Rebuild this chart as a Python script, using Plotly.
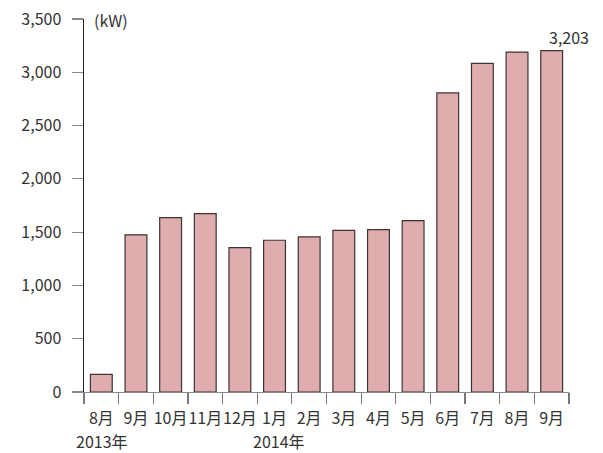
import plotly.graph_objects as go

months = ["8月", "9月", "10月", "11月", "12月", "1月", "2月", "3月", "4月", "5月", "6月", "7月", "8月", "9月"]
values = [166, 1475, 1636, 1674, 1354, 1424, 1455, 1516, 1524, 1608, 2806, 3083, 3190, 3203]
year_labels = ["2013年", "2014年"]
year_positions = [0, 5]
y_ticks = [0, 500, 1000, 1500, 2000, 2500, 3000, 3500]

x_idx = list(range(len(months)))
font_family = "Noto Sans CJK JP, Noto Sans, sans-serif"
text_color = "#333333"
fs = 16

fig = go.Figure(
    go.Bar(
        x=x_idx,
        y=values,
        width=0.63,
        marker=dict(color="#dfadad", line=dict(color="#3d3335", width=1.2)),
        hoverinfo="skip",
    )
)

fig.update_layout(
    width=603,
    height=453,
    margin=dict(l=84, r=34, t=19, b=61, autoexpand=False),
    paper_bgcolor="white",
    plot_bgcolor="white",
    showlegend=False,
    separators=".,",
    font=dict(family=font_family, size=fs, color=text_color),
)

fig.update_xaxes(
    automargin=False,
    range=[-0.5, 13.5],
    tickmode="array",
    tickvals=x_idx,
    ticktext=months,
    tickangle=0,
    showgrid=False,
    zeroline=False,
    showline=True,
    linecolor="#888888",
    linewidth=1.2,
    ticks="",
    ticklabelstandoff=12,
    tickfont=dict(size=fs, color=text_color),
    minor=dict(
        tickmode="array",
        tickvals=[i - 0.5 for i in range(len(months) + 1)],
        ticks="outside",
        ticklen=11,
        tickcolor="#777777",
        tickwidth=1.2,
        showgrid=False,
    ),
)

fig.update_yaxes(
    automargin=False,
    range=[0, 3500],
    tickmode="array",
    tickvals=y_ticks,
    tickformat=",d",
    showgrid=False,
    zeroline=False,
    showline=True,
    linecolor="#222222",
    linewidth=1.5,
    ticks="outside",
    ticklen=11,
    tickcolor="#888888",
    tickwidth=1.2,
    ticklabelstandoff=7,
    tickfont=dict(size=fs, color=text_color),
)

annotations = []
for lbl, pos, xs in zip(year_labels, year_positions, [-10, -6]):
    annotations.append(dict(
        x=pos - 0.5, xref="x", y=0, yref="paper", yshift=-49, xshift=xs,
        text=lbl, showarrow=False, xanchor="left", yanchor="middle",
        font=dict(size=fs, color=text_color),
    ))
annotations.append(dict(
    x=-0.5, xref="x", y=3500, yref="y", xshift=8, yshift=-1,
    text="(kW)", showarrow=False, xanchor="left", yanchor="middle",
    font=dict(size=fs, color=text_color),
))
annotations.append(dict(
    x=13, xref="x", y=values[-1], yref="y", xshift=17, yshift=14,
    text=f"{values[-1]:,}", showarrow=False, xanchor="center", yanchor="middle",
    font=dict(size=fs, color=text_color),
))
fig.update_layout(annotations=annotations)

fig.write_html(
    "out.html",
    config={"displayModeBar": False, "staticPlot": True},
    post_script="document.body.style.margin='0';",
)
